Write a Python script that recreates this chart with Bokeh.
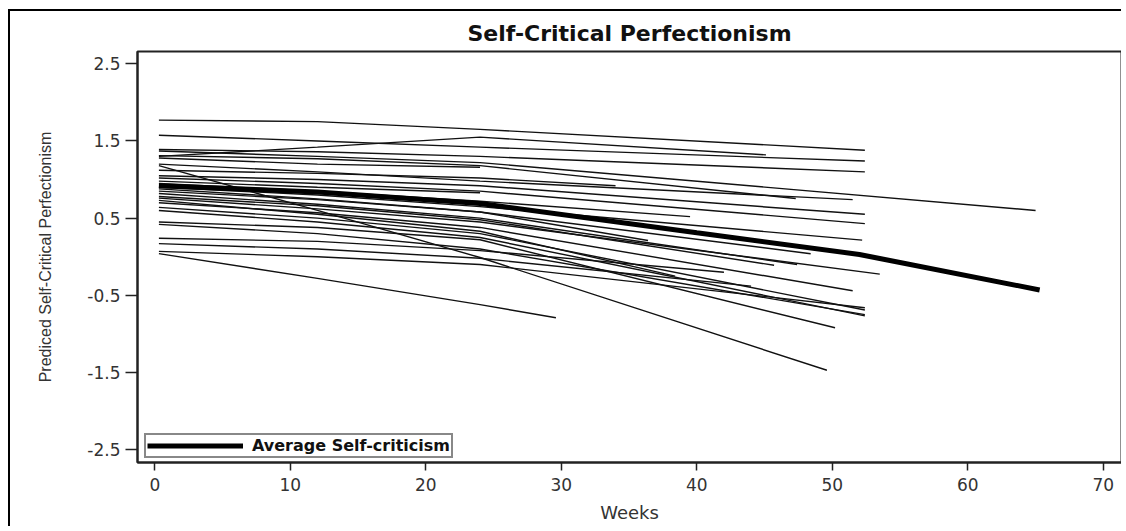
from bokeh.plotting import figure
from bokeh.models import FixedTicker, Legend, LegendItem, Range1d
from bokeh.embed import file_html
from bokeh.resources import INLINE

title_text = "Self-Critical Perfectionism"
x_label = "Weeks"
y_label = "Prediced Self-Critical Perfectionism"
legend_label = "Average Self-criticism"
x_ticks = [0, 10, 20, 30, 40, 50, 60, 70]
y_ticks = [-2.5, -1.5, -0.5, 0.5, 1.5, 2.5]
y_tick_labels = ["-2.5", "-1.5", "-0.5", "0.5", "1.5", "2.5"]

# average trajectory
avg_weeks = [0.3, 12, 24, 40, 52, 65.3]
avg_values = [0.92, 0.84, 0.69, 0.31, 0.03, -0.43]

# individual predicted trajectories (weeks, values)
subject_weeks = [
    [0.3, 12, 24, 52.4],
    [0.3, 12, 24, 45.1],
    [0.3, 12, 24, 52.4],
    [0.3, 12, 24, 52.4],
    [0.3, 12, 24, 65.0],
    [0.3, 12, 24, 47.3],
    [0.3, 12, 24],
    [0.3, 12, 24, 51.5],
    [0.3, 12, 24, 34.0],
    [0.3, 12, 24, 52.4],
    [0.3, 12, 24, 52.4],
    [0.3, 12, 24],
    [0.3, 12, 24, 39.5],
    [0.3, 12, 24, 52.2],
    [0.3, 12, 24, 36.4],
    [0.3, 12, 24, 48.4],
    [0.3, 12, 24, 47.4],
    [0.3, 12, 24, 45.7],
    [0.3, 12, 24, 53.5],
    [0.3, 12, 24, 38.4],
    [0.3, 12, 24, 51.5],
    [0.3, 12, 24, 52.4],
    [0.3, 12, 24, 52.4],
    [0.3, 12, 24, 50.2],
    [0.3, 12, 24, 52.4],
    [0.3, 12, 24, 49.6],
    [0.3, 12, 24, 42.0],
    [0.3, 12, 24, 44.0],
    [0.3, 12, 24, 52.4],
    [0.3, 12, 24, 29.6],
]
subject_values = [
    [1.77, 1.75, 1.65, 1.38],
    [1.30, 1.42, 1.55, 1.32],
    [1.575, 1.50, 1.42, 1.24],
    [1.39, 1.36, 1.30, 1.10],
    [1.37, 1.30, 1.22, 0.60],
    [1.31, 1.27, 1.18, 0.755],
    [1.28, 1.20, 1.16],
    [1.20, 1.10, 0.98, 0.74],
    [1.12, 1.08, 1.02, 0.92],
    [1.05, 1.00, 0.92, 0.55],
    [1.02, 0.95, 0.85, 0.43],
    [0.98, 0.90, 0.83],
    [0.95, 0.85, 0.72, 0.52],
    [0.90, 0.80, 0.65, 0.215],
    [0.88, 0.75, 0.58, 0.21],
    [0.85, 0.74, 0.58, 0.04],
    [0.82, 0.68, 0.50, -0.10],
    [0.78, 0.66, 0.48, -0.11],
    [0.76, 0.62, 0.45, -0.225],
    [0.73, 0.55, 0.33, -0.25],
    [0.70, 0.57, 0.38, -0.44],
    [0.64, 0.50, 0.30, -0.69],
    [0.60, 0.45, 0.25, -0.765],
    [0.45, 0.38, 0.22, -0.92],
    [0.42, 0.30, 0.10, -0.75],
    [1.18, 0.60, -0.01, -1.47],
    [0.24, 0.20, 0.08, -0.20],
    [0.17, 0.10, -0.02, -0.38],
    [0.07, 0.00, -0.10, -0.66],
    [0.04, -0.28, -0.62, -0.79],
]

FONT = "DejaVu Sans"

p = figure(
    width=1113, height=517,
    x_range=Range1d(-1.28, 71.34), y_range=Range1d(-2.665, 2.659),
    output_backend="svg", toolbar_location=None,
    title=title_text,
    min_border_left=127, min_border_right=2, min_border_top=40, min_border_bottom=66,
)
p.styles = {
    "margin-left": "8px", "margin-top": "9px",
    "border-left": "2px solid #000", "border-top": "2px solid #000",
}
p.background_fill_color = "white"
p.border_fill_color = "white"
p.outline_line_color = "#222"
p.outline_line_width = 2
p.xgrid.visible = False
p.ygrid.visible = False

p.title.align = "center"
p.title.text_font = FONT
p.title.text_font_size = "22px"
p.title.text_font_style = "bold"
p.title.text_color = "#111"
p.title.standoff = 12

for ax in (p.xaxis[0], p.yaxis[0]):
    ax.axis_line_color = "#222"
    ax.axis_line_width = 2
    ax.major_tick_line_color = "#222"
    ax.major_tick_line_width = 1.5
    ax.major_tick_in = 0
    ax.minor_tick_line_color = None
    ax.major_label_text_font = FONT
    ax.major_label_text_font_size = "17px"
    ax.major_label_text_color = "#333"
    ax.axis_label_text_font_style = "normal"
    ax.axis_label_text_color = "#333"

p.xaxis.ticker = FixedTicker(ticks=x_ticks)
p.yaxis.ticker = FixedTicker(ticks=y_ticks)
p.yaxis.major_label_overrides = dict(zip(y_ticks, y_tick_labels))
p.xaxis.major_tick_out = 8
p.yaxis.major_tick_out = 12
p.xaxis.major_label_standoff = 7
p.yaxis.major_label_standoff = 5

p.xaxis.axis_label = x_label
p.xaxis.axis_label_text_font = FONT
p.xaxis.axis_label_text_font_size = "18px"
p.xaxis.axis_label_standoff = 8

p.yaxis.axis_label = y_label
p.yaxis.axis_label_text_font = "Liberation Sans"
p.yaxis.axis_label_text_font_size = "16px"
p.yaxis.axis_label_standoff = 30

p.multi_line(xs=subject_weeks, ys=subject_values, line_color="#111", line_width=1.4)
avg = p.line(avg_weeks, avg_values, line_color="#000", line_width=5)

legend = Legend(
    items=[LegendItem(label=legend_label, renderers=[avg])],
    location=(7, 4), margin=0, padding=1, spacing=0,
    glyph_width=96, glyph_height=15, label_height=15, label_standoff=9,
    label_text_font=FONT, label_text_font_size="16px", label_text_font_style="bold",
    label_text_color="#111",
    border_line_color="#111", border_line_width=2,
    background_fill_color="white", background_fill_alpha=1.0,
)
p.add_layout(legend)

open("out.html", "w").write(file_html(p, INLINE))
